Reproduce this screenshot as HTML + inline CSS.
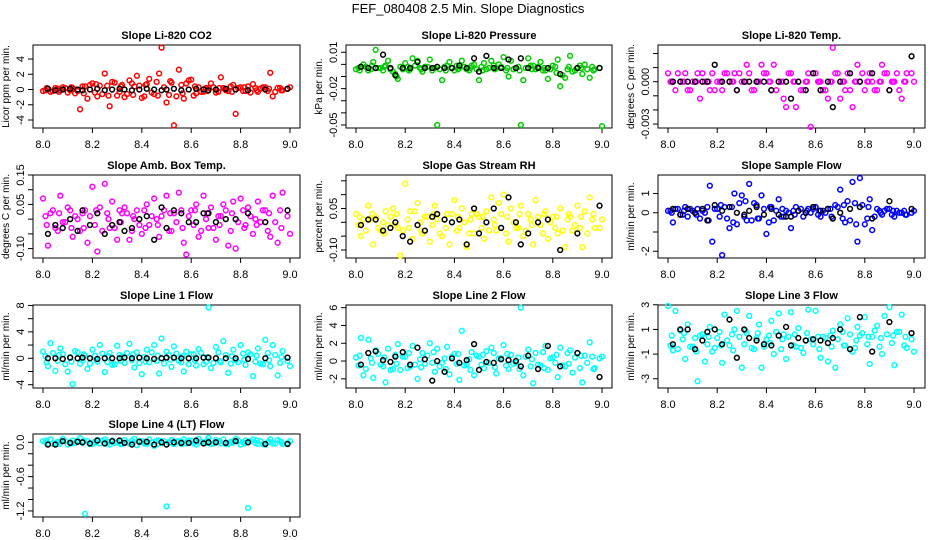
<!DOCTYPE html>
<html><head><meta charset="utf-8"><style>
html,body{margin:0;padding:0;background:#fff;}
svg{display:block;font-family:"Liberation Sans",Arial,sans-serif;}
</style></head><body>
<svg id="chart" width="936" height="540" viewBox="0 0 936 540" xmlns="http://www.w3.org/2000/svg">
<rect width="936" height="540" fill="#fff"/>
<text x="468" y="13" text-anchor="middle" font-size="13">FEF_080408  2.5 Min. Slope Diagnostics</text>
</svg>
<script>
const xTickLabels = ["8.0","8.2","8.4","8.6","8.8","9.0"];
const times = [8.00,8.02,8.03,8.05,8.07,8.08,8.10,8.12,8.13,8.15,
8.17,8.18,8.20,8.22,8.23,8.25,8.27,8.28,8.30,8.32,
8.33,8.35,8.37,8.38,8.40,8.42,8.43,8.45,8.47,8.48,
8.50,8.52,8.53,8.55,8.57,8.58,8.60,8.62,8.63,8.65,
8.67,8.68,8.70,8.72,8.73,8.75,8.77,8.78,8.80,8.82,
8.83,8.85,8.87,8.88,8.90,8.92,8.93,8.95,8.97,9.00];
const timesB = [8.01,8.015,8.04,8.06,8.065,8.09,8.11,8.115,8.14,8.16,
8.165,8.19,8.21,8.215,8.24,8.26,8.265,8.29,8.31,8.315,
8.34,8.36,8.365,8.39,8.41,8.415,8.44,8.46,8.465,8.49,
8.51,8.515,8.54,8.56,8.565,8.59,8.61,8.615,8.64,8.66,
8.665,8.69,8.71,8.715,8.74,8.76,8.765,8.79,8.81,8.815,
8.84,8.86,8.865,8.89,8.91,8.915,8.94,8.96,8.965,8.99];
const blackTimes = [8.02,8.05,8.08,8.11,8.14,8.16,8.19,8.22,8.25,8.28,
8.31,8.33,8.36,8.39,8.42,8.45,8.48,8.50,8.53,8.56,
8.59,8.62,8.65,8.67,8.70,8.74,8.78,8.83,8.90,8.99];

const co2 = [-0.2,0.1,-0.3,0.2,-0.1,0.3,-0.4,0.2,-0.5,-2.6,
0.4,-1.2,0.8,-0.9,0.5,2.1,-2.2,1.0,-0.8,0.6,
-1.0,1.2,0.4,1.8,-1.1,0.7,1.4,-0.6,2.1,5.5,
-1.7,0.9,-4.7,2.6,-1.2,0.8,1.3,-0.5,0.3,-0.3,
0.2,0.8,-0.4,1.6,0.2,-0.2,0.6,-3.2,0.3,-0.2,
0.4,0.7,-0.3,0.1,0.3,2.2,-0.9,0.2,-0.1,0.3];
const co2B = [-0.1,0.2,-0.2,0.1,-0.3,0.2,-0.1,0.3,-0.2,0.4,
-0.5,0.6,-0.4,0.7,-0.6,0.5,-0.8,0.9,-0.3,0.4,
-0.6,0.8,-0.7,0.5,-0.9,0.6,-0.4,1.0,-0.8,0.3,
-0.7,1.1,-0.9,0.6,-0.5,1.2,-0.8,0.4,-0.3,0.2,
-0.2,0.3,-0.3,0.2,-0.1,0.4,-0.3,0.2,-0.2,0.3,
-0.4,0.2,-0.1,0.3,-0.2,0.1,-0.3,0.2,-0.1,0.1];
const co2Black = [0.1,-0.1,0.0,0.1,0.0,-0.1,0.0,0.1,-0.1,0.0,0.1,0.0,-0.1,0.0,0.1,0.0,-0.1,0.0,0.1,-0.1,0.0,0.1,0.0,-0.1,0.0,0.1,0.0,-0.1,0.0,0.1];

const pressure = [-0.004,-0.002,0.000,-0.005,0.002,0.012,-0.003,-0.001,0.003,-0.006,
-0.012,-0.002,0.001,-0.004,0.005,0.003,-0.006,-0.002,0.004,-0.003,
-0.050,-0.013,-0.001,0.002,-0.005,-0.003,0.003,-0.004,-0.001,0.000,
-0.013,0.001,-0.004,0.003,-0.003,0.000,0.006,-0.010,0.003,-0.003,
-0.050,-0.013,0.005,-0.001,-0.004,0.002,-0.005,-0.012,-0.001,0.004,
-0.018,-0.011,0.007,-0.006,-0.003,-0.008,0.000,-0.011,-0.004,-0.051];
const pressureB = [-0.003,-0.005,-0.002,-0.004,-0.001,-0.003,-0.005,-0.002,-0.004,-0.008,
-0.010,-0.004,-0.002,-0.005,-0.001,-0.003,-0.004,-0.002,-0.005,-0.003,
-0.004,-0.002,-0.005,-0.003,-0.001,-0.004,-0.002,-0.005,-0.003,-0.004,
-0.002,-0.005,-0.003,-0.001,-0.004,-0.002,-0.005,-0.003,-0.004,-0.002,
-0.005,-0.003,-0.001,-0.004,-0.002,-0.005,-0.003,-0.004,-0.002,-0.007,
-0.009,-0.004,-0.002,-0.005,-0.001,-0.003,-0.004,-0.002,-0.005,-0.003];
const pressureBlack = [-0.002,-0.003,-0.003,0.008,-0.003,-0.009,-0.003,-0.003,0.002,-0.003,-0.003,-0.002,-0.003,-0.003,-0.001,-0.003,0.005,-0.006,0.007,-0.003,-0.003,0.004,-0.003,0.005,-0.003,-0.003,-0.003,-0.008,-0.003,-0.003];

const liTemp = [0.0006,0,-0.0006,0,0.0006,-0.0006,0,0.0006,-0.0012,0,
-0.0006,0.0006,0,-0.0006,0.0006,0,0.0006,-0.0006,0,0.0012,
0.0006,-0.0006,0,0.0012,0.0006,-0.0006,0.0012,0,-0.0012,-0.0018,
0.0006,-0.0018,0,-0.0006,0.0006,-0.0032,0.0006,0,-0.0006,-0.0012,
0.0024,0.0006,-0.0012,-0.0006,0.0006,-0.0018,0.0012,0,-0.0006,0.0006,
0,-0.0006,0.0012,0.0006,-0.0006,0,0.0006,-0.0012,0.0006,0];
const liTempB = [0,0,0.0006,0,0,-0.0006,0,0,0.0006,0,
0,-0.0006,0,0,0.0006,0,0,0.0006,0,0,
-0.0006,0,0,0.0006,0,0,-0.0006,0,0,0.0006,
0,0,-0.0006,0,0,0.0006,0,0,-0.0006,0,
0,0.0006,0,0,-0.0006,0,0,0.0006,0,0,
-0.0006,0,0,0.0006,0,0,-0.0006,0,0,0.0006];
const liTempBlack = [0,0,0,0,0,0,0.0012,0,0,-0.0006,0,0,0,0,-0.0006,0,0,-0.0012,0,-0.0006,0.0006,-0.0006,0,-0.0018,0,0.0006,0,0.0006,-0.0006,0.0018];

const ambTemp = [0.07,-0.09,0.02,-0.03,0.08,-0.01,0.04,-0.06,0.01,-0.04,
0.03,-0.08,0.11,-0.11,0.04,0.12,-0.03,0.06,-0.07,0.02,
0.04,-0.07,0.00,0.03,-0.05,0.05,-0.02,0.07,-0.06,0.01,
0.08,-0.04,0.02,0.09,-0.08,-0.12,0.03,0.05,-0.06,0.08,
-0.03,0.04,-0.07,0.01,0.05,-0.09,0.06,-0.10,0.07,-0.02,
0.04,-0.05,0.06,-0.01,0.03,-0.06,0.08,-0.08,0.09,-0.05];
const ambTempB = [0.01,-0.02,0.03,-0.04,0.02,-0.01,0.03,-0.03,0.00,0.02,
-0.03,0.01,-0.02,0.03,-0.04,0.02,0.00,-0.03,0.03,-0.01,
0.02,-0.04,0.01,-0.02,0.03,-0.03,0.01,0.00,-0.02,0.03,
-0.04,0.02,-0.01,0.03,-0.03,0.01,-0.02,0.03,-0.04,0.00,
0.02,-0.03,0.01,-0.02,0.03,-0.04,0.02,-0.01,0.03,-0.03,
0.01,0.00,-0.02,0.03,-0.04,0.02,-0.01,0.03,-0.03,0.01];
const ambTempBlack = [-0.05,-0.02,-0.03,0.0,-0.04,0.03,-0.02,0.02,-0.05,-0.02,-0.01,-0.04,-0.03,0.0,0.01,-0.07,0.04,-0.03,0.03,0.02,-0.01,-0.01,0.02,0.02,-0.01,0.0,0.0,0.02,-0.01,0.03];

const gasRH = [0.03,-0.05,0.01,0.06,-0.08,0.02,-0.03,0.04,-0.01,0.05,
-0.02,-0.12,0.14,0.04,-0.06,0.07,-0.04,0.02,-0.07,0.06,
0.01,-0.05,0.03,-0.08,0.08,-0.02,0.05,-0.09,0.03,-0.04,
0.02,-0.06,0.04,0.09,-0.03,0.07,0.10,-0.07,0.05,-0.02,
0.06,-0.05,0.03,-0.08,0.08,-0.01,0.04,-0.06,0.02,-0.04,
0.05,-0.09,0.02,-0.03,0.06,-0.09,0.04,0.09,-0.02,0.01];
const gasRHB = [-0.01,0.02,-0.03,0.01,0.03,-0.02,0.00,-0.04,0.02,-0.01,
0.03,-0.03,0.01,-0.02,0.04,0.00,-0.03,0.02,-0.01,0.03,
-0.04,0.01,-0.02,0.03,-0.03,0.02,0.00,-0.04,0.01,0.03,
-0.02,0.02,-0.03,0.01,-0.01,0.03,-0.04,0.02,0.00,-0.02,
0.03,-0.03,0.01,-0.01,0.02,-0.04,0.03,0.00,-0.02,0.02,
-0.03,0.01,0.03,-0.01,-0.02,0.02,-0.04,0.01,0.03,-0.02];
const gasRHBlack = [-0.01,0.01,0.01,-0.03,-0.02,0.0,-0.05,-0.07,-0.01,-0.03,0.02,0.03,0.01,0.0,0.01,-0.08,0.05,-0.04,0.0,0.05,-0.02,0.09,0.0,-0.08,-0.04,0.0,0.01,-0.10,-0.04,0.06];

const sampleFlow = [0.1,-0.5,0.2,-0.1,0.3,-0.2,0.1,0.2,-0.3,0.0,
1.4,-1.5,0.2,-2.2,0.3,-0.8,1.0,-0.6,0.9,-0.4,
1.5,0.5,-0.3,0.9,-1.1,0.3,-0.4,0.7,-0.2,0.1,
-0.8,0.3,0.1,-0.2,0.2,0.0,0.3,-0.2,0.1,0.2,
-0.3,0.4,1.2,-0.5,0.6,1.6,-1.5,1.8,-0.6,0.7,
-0.9,0.2,-0.1,0.1,0.2,-0.2,0.1,0.0,-0.1,0.1];
const sampleFlowB = [0.1,0.0,0.2,-0.1,0.1,0.2,0.0,-0.1,0.1,0.3,
-0.4,0.2,-0.2,0.4,-0.3,0.3,-0.5,0.5,-0.2,0.6,
-0.4,0.4,-0.3,0.2,-0.5,0.3,0.1,-0.2,0.2,0.0,
0.1,-0.1,0.2,0.0,0.1,0.2,-0.1,0.1,0.0,0.2,
-0.2,0.3,-0.3,0.4,-0.4,0.5,-0.6,0.4,-0.3,0.3,
-0.2,0.1,0.0,0.2,-0.1,0.1,0.0,0.1,-0.1,0.0];
const sampleFlowBlack = [0.2,-0.1,0.2,0.0,0.2,-0.4,0.4,0.1,0.3,0.0,-0.1,0.1,0.3,-0.1,0.2,-0.1,-0.2,-0.2,0.1,0.0,0.3,0.1,0.2,-0.3,0.0,0.2,0.3,-0.3,0.6,0.2];

const line1 = [1.0,-1.2,2.3,-1.9,1.5,0.6,-2.0,-3.9,1.1,-0.8,
0.4,-1.6,1.3,-0.5,2.0,-2.1,0.8,-1.0,1.9,0.3,
-0.7,2.2,-1.4,0.9,-2.4,1.3,-0.6,2.0,-2.3,3.0,
1.0,-1.3,1.8,-0.4,-2.0,1.0,0.6,-1.1,1.4,-0.9,
7.7,-1.5,1.7,-0.6,2.6,-2.2,1.3,-0.3,2.0,-1.0,
0.9,-2.7,1.5,-0.8,2.8,-1.2,2.0,-2.6,1.1,-1.2];
const line1B = [0.3,-0.6,0.8,-0.4,0.5,-0.9,0.2,-0.5,0.9,-0.3,
0.6,-0.8,0.4,-0.2,0.7,-0.6,0.3,-0.9,0.5,-0.4,
0.8,-0.3,0.6,-0.7,0.2,-0.5,0.9,-0.4,0.4,-0.8,
0.5,-0.2,0.7,-0.6,0.3,-0.9,0.6,-0.3,0.8,-0.5,
0.2,-0.7,0.9,-0.4,0.5,-0.8,0.3,-0.6,0.7,-0.2,
0.6,-0.5,0.4,-0.9,0.8,-0.3,0.5,-0.7,0.2,-0.4];
const line1Black = [0.0,0.0,-0.1,0.1,0.0,0.1,0.0,-0.1,0.0,0.0,0.0,0.1,0.0,0.1,0.0,-0.1,0.0,0.1,0.1,0.0,0.0,0.0,0.1,0.1,0.0,0.0,0.0,-0.1,0.0,0.1];

const line2 = [0.4,2.6,-1.6,2.4,-1.9,1.2,-0.4,-2.4,1.4,-0.9,
1.9,-1.0,0.5,-0.6,1.7,-2.0,0.9,-0.3,2.0,-1.2,
1.4,-0.2,1.6,-1.5,0.8,-2.1,3.4,-0.4,1.0,-1.6,
0.5,-0.8,1.1,1.5,-1.4,0.3,1.8,-0.9,0.7,-0.2,
6.0,-1.6,1.3,-2.5,0.9,-0.5,1.7,-1.0,0.4,-1.8,
1.5,-0.6,1.2,-1.3,0.9,-2.4,0.6,2.1,-0.8,0.5];
const line2B = [-0.5,0.6,-0.9,0.3,-0.2,0.8,-0.6,0.4,-1.0,0.7,
-0.3,0.5,-0.8,0.9,-0.4,0.2,-0.7,0.6,-0.2,1.0,
-0.6,0.3,-0.9,0.5,-0.3,0.8,-0.5,0.2,-1.0,0.6,
-0.4,0.7,-0.2,0.9,-0.7,0.3,-0.5,0.8,-0.3,0.4,
-0.9,0.5,-0.6,0.2,-0.4,1.0,-0.8,0.3,-0.2,0.7,
-0.5,0.9,-0.3,0.4,-0.8,0.6,-0.2,0.5,-0.9,0.3];
const line2Black = [-0.4,0.9,1.1,0.1,-0.1,0.5,1.0,-0.4,1.5,0.2,-2.2,0.0,-1.2,0.3,-0.2,0.1,1.9,-1.0,-0.1,-0.2,0.2,0.1,0.0,-0.6,0.6,-0.9,1.7,-0.6,0.9,-1.8];

const line3 = [2.9,-0.7,2.5,0.9,-1.4,1.4,-0.4,-3.2,0.5,-1.6,
1.2,-0.8,0.3,-1.7,2.2,-0.3,1.0,2.5,-2.1,0.7,
2.1,-0.6,1.4,-2.1,0.2,1.7,-1.0,2.3,0.6,-1.4,
2.4,-0.4,1.1,-0.9,2.6,0.2,2.5,-1.3,0.4,-1.6,
0.9,-2.1,1.4,-0.3,1.9,-0.8,1.2,0.5,2.0,-1.8,
0.4,1.3,-1.0,2.1,2.8,-1.9,0.8,2.2,-0.5,-0.8];
const line3B = [-0.3,0.5,-0.6,0.2,0.7,-0.4,0.3,-0.8,0.6,-0.2,
0.4,-0.5,0.8,-0.3,0.1,0.6,-0.7,0.4,-0.2,0.9,
-0.5,0.3,0.7,-0.4,0.5,-0.1,0.8,-0.6,0.2,0.4,
-0.3,0.6,-0.5,0.1,0.7,-0.2,0.4,-0.6,0.3,0.5,
-0.4,0.2,0.8,-0.3,0.6,-0.5,0.1,0.7,-0.2,0.4,
0.9,-0.4,0.3,0.6,-0.1,0.5,0.8,-0.3,0.4,0.2];
const line3Black = [-0.2,1.0,1.0,-0.6,0.1,0.8,1.0,-0.2,1.8,-1.3,1.0,0.3,0.1,-0.2,-0.3,0.5,1.2,-0.3,0.3,0.1,0.2,0.1,-0.1,0.3,1.0,-0.6,2.0,-0.8,1.6,0.7];

const line4 = [0.02,-0.03,0.05,-0.02,0.01,0.06,-0.04,0.03,-0.01,0.07,
-1.25,0.02,-0.03,0.04,-0.02,0.05,-0.04,0.03,0.00,-0.03,
0.04,-0.02,0.06,-0.05,0.02,-0.03,0.05,-0.06,0.03,-0.01,
-1.12,0.04,-0.03,0.02,0.05,-0.02,0.03,-0.04,0.06,-0.01,
0.08,-0.03,0.04,-0.02,0.05,-0.03,0.02,0.06,-0.04,0.03,
-1.15,0.05,-0.03,0.02,-0.04,0.05,-0.02,0.04,-0.03,0.02];
const line4B = [0.00,0.03,-0.02,0.01,-0.03,0.02,0.00,-0.02,0.03,-0.01,
0.02,-0.03,0.01,0.00,0.03,-0.02,0.01,-0.01,0.02,-0.03,
0.00,0.03,-0.01,0.02,-0.02,0.01,0.00,0.03,-0.03,0.02,
-0.01,0.00,0.02,-0.03,0.01,0.03,-0.02,0.00,0.01,-0.01,
0.03,-0.02,0.00,0.02,-0.03,0.01,-0.01,0.03,0.00,-0.02,
0.02,-0.01,0.03,-0.03,0.00,0.01,-0.02,0.02,0.00,-0.01];
const line4Black = [-0.04,-0.04,0.02,-0.01,0.01,0.0,-0.02,0.03,-0.02,0.02,0.03,-0.01,-0.04,0.01,0.01,-0.04,0.0,-0.04,0.0,-0.01,-0.01,0.03,-0.02,0.0,0.0,-0.01,0.02,0.0,-0.03,-0.03];

const panels = [
 {name:"co2",title:"Slope Li-820 CO2",ylab:"Licor ppm per min.",col:0,row:0,ymin:-5.05,ymax:5.84,ticks:[-4,-2,0,2,4],labels:["-4","-2","0","2","4"],color:"#ff0000",ys:co2,ys2:co2B,yb:co2Black},
 {name:"pressure",title:"Slope Li-820 Pressure",ylab:"kPa per min.",col:1,row:0,ymin:-0.0525,ymax:0.016,ticks:[-0.05,-0.04,-0.03,-0.02,-0.01,0,0.01],labels:["-0.05","","","-0.02","","","0.01"],color:"#00cc00",ys:pressure,ys2:pressureB,yb:pressureBlack},
 {name:"li-temp",title:"Slope Li-820 Temp.",ylab:"degrees C per min.",col:2,row:0,ymin:-0.00328,ymax:0.0026,ticks:[-0.003,-0.002,-0.001,0,0.001,0.002],labels:["-0.003","","","0.000","",""],color:"#ff00ff",ys:liTemp,ys2:liTempB,yb:liTempBlack},
 {name:"amb-temp",title:"Slope Amb. Box Temp.",ylab:"degrees C per min.",col:0,row:1,ymin:-0.132,ymax:0.15,ticks:[-0.1,-0.05,0,0.05,0.1,0.15],labels:["-0.10","","","0.05","","0.15"],color:"#ff00ff",ys:ambTemp,ys2:ambTempB,yb:ambTempBlack},
 {name:"gas-rh",title:"Slope Gas Stream RH",ylab:"percent per min.",col:1,row:1,ymin:-0.129,ymax:0.171,ticks:[-0.1,-0.05,0,0.05,0.1,0.15],labels:["-0.10","","","0.05","",""],color:"#ffff00",ys:gasRH,ys2:gasRHB,yb:gasRHBlack},
 {name:"sample-flow",title:"Slope Sample Flow",ylab:"ml/min per min.",col:2,row:1,ymin:-2.35,ymax:1.96,ticks:[-2,-1,0,1],labels:["-2","","0","1"],color:"#0000ff",ys:sampleFlow,ys2:sampleFlowB,yb:sampleFlowBlack},
 {name:"line1-flow",title:"Slope Line 1 Flow",ylab:"ml/min per min.",col:0,row:2,ymin:-4.5,ymax:8.07,ticks:[-4,-2,0,2,4,6,8],labels:["-4","","0","","4","","8"],color:"#00ffff",ys:line1,ys2:line1B,yb:line1Black},
 {name:"line2-flow",title:"Slope Line 2 Flow",ylab:"ml/min per min.",col:1,row:2,ymin:-3.03,ymax:6.3,ticks:[-2,0,2,4,6],labels:["-2","0","2","4","6"],color:"#00ffff",ys:line2,ys2:line2B,yb:line2Black},
 {name:"line3-flow",title:"Slope Line 3 Flow",ylab:"ml/min per min.",col:2,row:2,ymin:-3.75,ymax:2.98,ticks:[-3,-1,1,3],labels:["-3","-1","1","3"],color:"#00ffff",ys:line3,ys2:line3B,yb:line3Black},
 {name:"line4-flow",title:"Slope Line 4 (LT) Flow",ylab:"ml/min per min.",col:0,row:3,ymin:-1.306,ymax:0.145,ticks:[-1.2,-1.0,-0.8,-0.6,-0.4,-0.2,0],labels:["-1.2","","","-0.6","","","0.0"],color:"#00ffff",ys:line4,ys2:line4B,yb:line4Black}
];

const NS="http://www.w3.org/2000/svg";
const svg=document.getElementById('chart');
const colBox=[[33,300,43,290],[346,612,356,602],[658,925,668,914]];
const rowTop=[45,175,305,434];
const H=83;
function mk(tag,attrs,parent){const e=document.createElementNS(NS,tag);for(const k in attrs)e.setAttribute(k,attrs[k]);parent.appendChild(e);return e;}

panels.forEach(p=>{
  const [bl,br,x0,x1]=colBox[p.col];
  const bt=rowTop[p.row], bb=bt+H;
  const xs=v=>x0+(v-8)*(x1-x0);
  const ysc=v=>bb-(v-p.ymin)/(p.ymax-p.ymin)*H;
  const g=mk('g',{},svg);
  
  
  const t=mk('text',{x:(bl+br)/2,y:bt-6,'text-anchor':'middle','font-size':'11','font-weight':'bold'},g);
  t.textContent=p.title;
  
  
  const box=mk('rect',{x:bl,y:bt,width:br-bl,height:H,fill:'none',stroke:'#000','stroke-width':1},g);
  
  
  const xa=mk('g',{},g);
  
  
  mk('line',{x1:x0,x2:x1,y1:bb,y2:bb,stroke:'#000'},xa);
  xTickLabels.forEach(l=>{
    const x=xs(parseFloat(l));
    mk('line',{x1:x,x2:x,y1:bb,y2:bb+5,stroke:'#000'},xa);
    const tt=mk('text',{x:x,y:bb+20,'text-anchor':'middle','font-size':'11'},xa);
    tt.textContent=l;
    
    
  });
  const ya=mk('g',{},g);
  
  
  p.ticks.forEach((v,i)=>{
    const y=ysc(v);
    mk('line',{x1:bl,x2:bl-5,y1:y,y2:y,stroke:'#000'},ya);
    if(p.labels[i]){
      const tt=mk('text',{x:bl-9,y:y,'text-anchor':'middle','font-size':'11',transform:`rotate(-90 ${bl-9} ${y})`},ya);
      tt.textContent=p.labels[i];
      
      
    }
  });
  const yt=mk('text',{x:bl-24,y:(bt+bb)/2,'text-anchor':'middle','font-size':'10',transform:`rotate(-90 ${bl-24} ${(bt+bb)/2})`},g);
  yt.textContent=p.ylab;
  
  
  const pts=mk('g',{},g);
  
  
  const n2=Math.min(timesB.length,p.ys2.length);
  for(let i=0;i<n2;i++){
    const c=mk('circle',{cx:xs(timesB[i]),cy:ysc(p.ys2[i]),r:2.4,fill:'none',stroke:p.color,'stroke-width':1.5},pts);
    
    
  }
  const n=Math.min(times.length,p.ys.length);
  for(let i=0;i<n;i++){
    const c=mk('circle',{cx:xs(times[i]),cy:ysc(p.ys[i]),r:2.4,fill:'none',stroke:p.color,'stroke-width':1.5},pts);
    
    
  }
  const bp=mk('g',{},g);
  
  
  const m=Math.min(blackTimes.length,p.yb.length);
  for(let i=0;i<m;i++){
    const c=mk('circle',{cx:xs(blackTimes[i]),cy:ysc(p.yb[i]),r:2.4,fill:'none',stroke:'#000','stroke-width':1.5},bp);
    
    
  }
});
</script>
</body></html>
